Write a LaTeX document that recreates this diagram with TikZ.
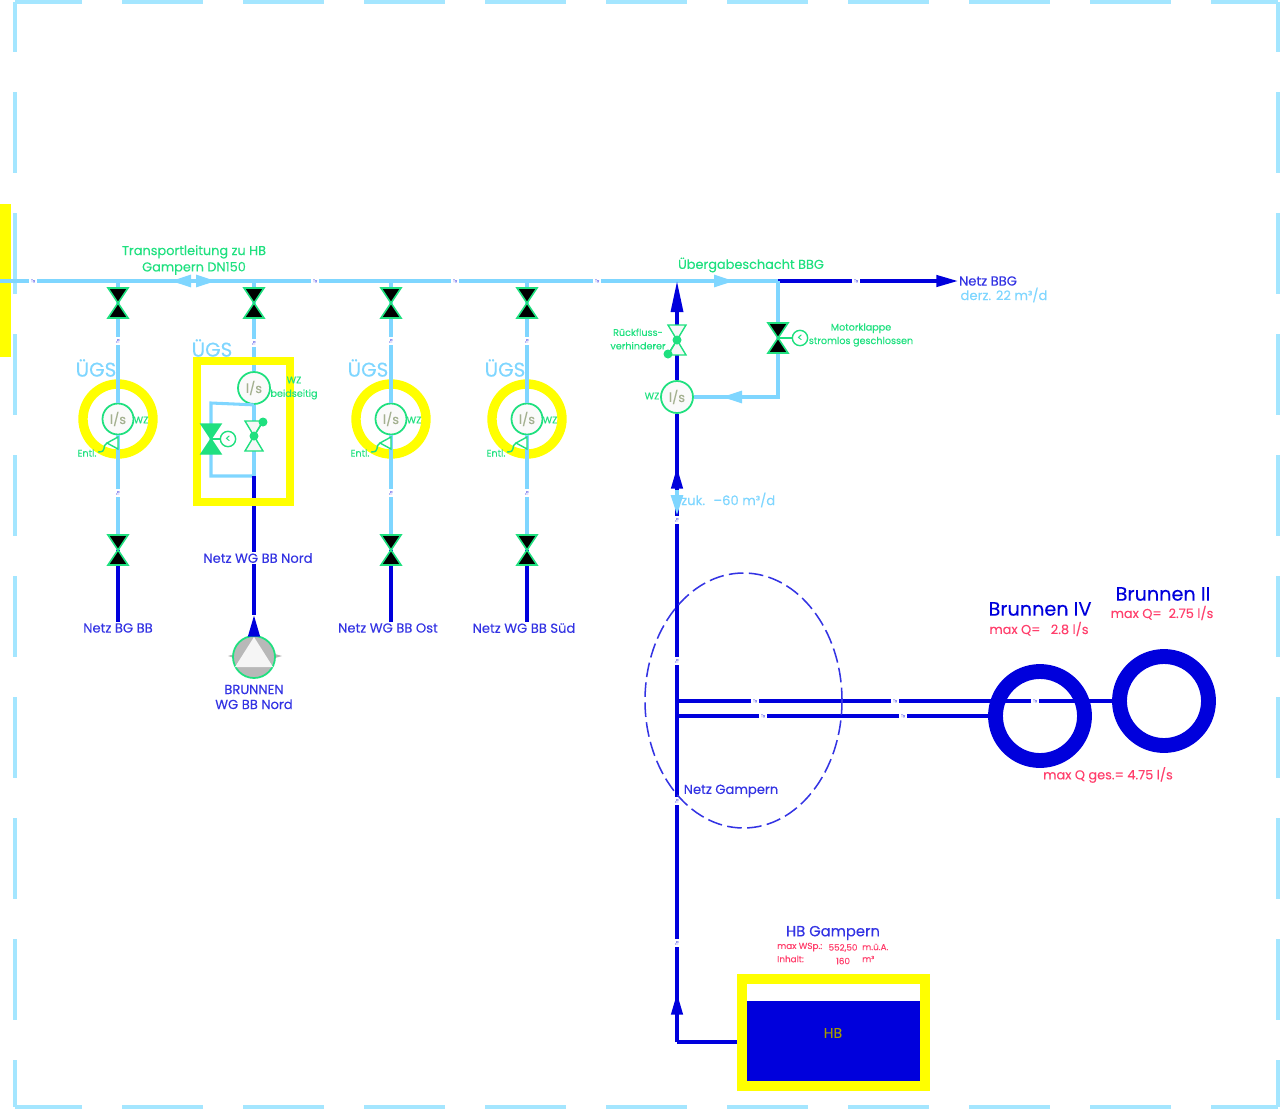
\documentclass[tikz,border=0pt]{standalone}
\usepackage{fontspec}
\setmainfont{Poppins}[FakeBold=0.2]
\usepackage{tikz}
\usetikzlibrary{arrows.meta,shapes.geometric}

\definecolor{lightpipe}{HTML}{7FD6FF}
\definecolor{darkpipe}{HTML}{0000DC}
\definecolor{framecol}{HTML}{A4E6FF}
\definecolor{signal}{HTML}{1FE07F}
\definecolor{alarm}{HTML}{FF3F6C}
\definecolor{markyellow}{RGB}{255,255,0}
\definecolor{metertext}{HTML}{A3B08F}

\tikzset{
  pipe/.style={line width=2.6pt,draw=lightpipe},
  mainpipe/.style={line width=2.8pt,draw=darkpipe},
  frameline/.style={line width=3pt,draw=framecol,dash pattern=on 2.43cm off 1.2cm},
  marker/.style={line width=7pt,draw=markyellow},
  tag/.style={font=\fontsize{3.5}{4}\selectfont,inner sep=1.5pt,text=darkpipe!50},
  meter/.style={circle,draw=signal,line width=1.5pt,fill=black!2,minimum size=0.93cm,inner sep=0pt,
    text=metertext,font=\fontsize{11}{12}\selectfont},
  motor/.style={circle,draw=signal,line width=1.2pt,fill=white,minimum size=0.46cm,inner sep=0pt,
    font=\fontsize{9}{9}\selectfont,text=signal},
  greentext/.style={text=signal,font=\fontsize{11}{14}\selectfont,inner sep=0pt,align=center},
  smallgreen/.style={text=signal,font=\fontsize{8.2}{11.5}\selectfont,inner sep=0pt,align=center},
  bluetext/.style={text=darkpipe!80!white,font=\fontsize{11.2}{12.8}\selectfont,inner sep=0pt,align=center},
  skytext/.style={text=lightpipe,font=\fontsize{11.2}{13}\selectfont,inner sep=0pt,align=center},
  ugstext/.style={text=lightpipe,font=\fontsize{17}{19}\selectfont,inner sep=0pt},
  redtext/.style={text=alarm,font=\fontsize{11}{13}\selectfont,inner sep=0pt},
  tinyred/.style={text=alarm,font=\fontsize{7.5}{9}\selectfont,inner sep=0pt},
  bigblue/.style={text=darkpipe,font=\fontsize{16.4}{19}\selectfont,inner sep=0pt},
  well/.style={circle,draw=darkpipe,line width=12.7pt,minimum size=2.67cm,inner sep=0pt},
  lighttip/.style={pipe,-{Triangle[length=0.6cm,width=0.36cm,fill=lightpipe]}},
  darktip/.style={mainpipe,-{Triangle[length=0.65cm,width=0.34cm,fill=darkpipe]}},
  longtip/.style={mainpipe,-{Triangle[length=0.93cm,width=0.36cm,fill=darkpipe]}},
  valve/.pic={
    \draw[signal,line width=1.4pt,fill=black] (-10,-15) -- (10,-15) -- (-10,15) -- (10,15) -- cycle;
  },
  greenvalve/.pic={
    \draw[signal,line width=1.2pt,fill=signal] (-10,-15) -- (10,-15) -- (-10,15) -- (10,15) -- cycle;
  },
  checkvalve/.pic={
    \draw[signal,line width=1.2pt,fill=black!3] (-9,-15) -- (9,-15) -- (-9,15) -- (9,15) -- cycle;
    \fill[signal] (0,0) circle (4.5);
  },
}

\begin{document}
\begin{tikzpicture}[x=0.03cm,y=-0.03cm]
    \useasboundingbox (0,0) rectangle (1281,1110);

    \coordinate (NW) at (15,2);
    \coordinate (NE) at (1278,2);
    \coordinate (SW) at (15,1107);
    \coordinate (SE) at (1278,1107);
    \draw[frameline,dash phase=0.42cm] (NW) -- (NE);
    \draw[frameline,dash phase=0.42cm] (SW) -- (SE);
    \draw[frameline,dash phase=0.93cm] (NW) -- (SW);
    \draw[frameline,dash phase=0.93cm] (NE) -- (SE);
    \fill[markyellow] (0,204) rectangle (11,357);

    % transport line
    \coordinate (west) at (0,281);
    \coordinate (shaft) at (677,281);
    \coordinate (flap) at (778,281);
    \coordinate (bbg) at (958,281);
    \node[tag] (ta) at (33,281) {Tx};
    \node[tag] (tb) at (315,281) {Tx};
    \node[tag] (tc) at (455,281) {Tx};
    \node[tag] (td) at (597,281) {Tx};
    \node[tag] (te) at (856,281) {Tx};
    \draw[pipe] (west) -- (ta) -- (tb) -- (tc) -- (td) -- (flap);
    \draw[mainpipe] (flap) -- (te);
    \draw[darktip] (te) -- (bbg);
    \draw[lighttip] (193,281) -- (171,281);
    \draw[lighttip] (196,281) -- (216,281);
    \draw[lighttip] (714,281) -- (734,281);

    % branch BG BB
    \coordinate (jA) at (118,281);
    \coordinate (vaA) at (118,303);
    \coordinate (vbA) at (118,550);
    \coordinate (endA) at (118,622);
    \draw[marker,line width=8pt] (118,419) circle (35);
    \node[meter] (mA) at (118,419) {l/s};
    \node[tag,rotate=90] (uaA) at (118,341) {Tx};
    \node[tag,rotate=90] (ubA) at (118,493) {Tx};
    \draw[pipe] (jA) -- (uaA) -- (mA);
    \draw[pipe] (mA) -- (ubA) -- (vbA);
    \draw[mainpipe] (vbA) -- (endA);
    \pic at (vaA) {valve};
    \pic at (vbA) {valve};

    % branch WG BB Nord
    \coordinate (jB) at (254,281);
    \coordinate (vaB) at (254,303);
    \coordinate (vcB) at (254,436);
    \coordinate (joinB) at (254,476);
    \coordinate (topB) at (211,403);
    \coordinate (botB) at (211,476);
    \coordinate (vgB) at (211,439);
    \coordinate (tipB) at (254,615);
    \node[meter,minimum size=0.96cm] (mB) at (254,388) {l/s};
    \node[tag,rotate=90] (uaB) at (254,343) {Tx};
    \draw[pipe] (jB) -- (uaB) -- (mB);
    \draw[pipe] (mB) -- (joinB);
    \draw[pipe] (mB.south) -- (topB) -- (botB) -- (joinB);
    \node[bluetext,fill=white,inner sep=1pt] (nordB) at (258,558) {Netz WG BB Nord};
    \draw[mainpipe] (joinB) -- (joinB |- nordB.north);
    \draw[marker] (197,361) rectangle (290,502);
    \pic at (vaB) {valve};
    \pic at (vgB) {greenvalve};
    \pic at (vcB) {checkvalve};
    \draw[signal,line width=1pt] (vcB) -- (263,422);
    \fill[signal] (263,422) circle (4.5);
    \node[motor] (motB) at (228,439) {<};
    \draw[signal,line width=1.2pt] (vgB) -- (motB);

    % pump
    \fill[black!30] (228,656) -- (254,648) -- (282,656) -- (254,664) -- cycle;
    \node[circle,draw=signal,line width=1.5pt,fill=black!28,minimum size=1.26cm,inner sep=0pt] (pump) at (254,657) {};
    \fill[black!4] (254,637) -- (273,667) -- (235,667) -- cycle;
    \draw[mainpipe] (tipB |- nordB.south) -- (tipB);
    \draw[darktip] (pump.north) -- (tipB);

    % branch WG BB Ost
    \coordinate (jC) at (391,281);
    \coordinate (vaC) at (391,303);
    \coordinate (vbC) at (391,550);
    \coordinate (endC) at (391,622);
    \draw[marker,line width=8pt] (391,419) circle (35);
    \node[meter] (mC) at (391,419) {l/s};
    \node[tag,rotate=90] (uaC) at (391,341) {Tx};
    \node[tag,rotate=90] (ubC) at (391,493) {Tx};
    \draw[pipe] (jC) -- (uaC) -- (mC);
    \draw[pipe] (mC) -- (ubC) -- (vbC);
    \draw[mainpipe] (vbC) -- (endC);
    \pic at (vaC) {valve};
    \pic at (vbC) {valve};

    % branch WG BB Sued
    \coordinate (jD) at (527,281);
    \coordinate (vaD) at (527,303);
    \coordinate (vbD) at (527,550);
    \coordinate (endD) at (527,622);
    \draw[marker,line width=8pt] (527,419) circle (35);
    \node[meter] (mD) at (527,419) {l/s};
    \node[tag,rotate=90] (uaD) at (527,341) {Tx};
    \node[tag,rotate=90] (ubD) at (527,493) {Tx};
    \draw[pipe] (jD) -- (uaD) -- (mD);
    \draw[pipe] (mD) -- (ubD) -- (vbD);
    \draw[mainpipe] (vbD) -- (endD);
    \pic at (vaD) {valve};
    \pic at (vbD) {valve};

    % air valves
    \draw[signal,line width=1.2pt,fill=white] (118,437) -- (107,443) -- (118,449) -- cycle;
    \draw[signal,line width=1.2pt] (107,443) .. controls (101,446) and (108,452) .. (98,452);
    \draw[signal,line width=1.2pt,fill=white] (391,437) -- (380,443) -- (391,449) -- cycle;
    \draw[signal,line width=1.2pt] (380,443) .. controls (374,446) and (381,452) .. (371,452);
    \draw[signal,line width=1.2pt,fill=white] (527,437) -- (516,443) -- (527,449) -- cycle;
    \draw[signal,line width=1.2pt] (516,443) .. controls (510,446) and (517,452) .. (507,452);

    % shaft
    \coordinate (checkV) at (677,340);
    \coordinate (flapV) at (778,338);
    \coordinate (bend) at (778,397);
    \coordinate (tank) at (738,1042);
    \coordinate (foot) at (677,1042);
    \node[meter,minimum size=0.96cm] (mS) at (677,397) {l/s};
    \node[tag,rotate=90] (tf) at (677,520) {Tx};
    \node[tag,rotate=90] (tg) at (677,661) {Tx};
    \node[tag,rotate=90] (th) at (677,801) {Tx};
    \node[tag,rotate=90] (ti) at (677,943) {Tx};
    \draw[mainpipe] (foot) -- (ti);
    \draw[mainpipe] (foot) -- (tank);
    \draw[mainpipe] (ti) -- (th);
    \draw[mainpipe] (th) -- (tg);
    \draw[mainpipe] (tg) -- (tf);
    \draw[mainpipe] (tf) -- (mS);
    \draw[mainpipe] (mS) -- (checkV);
    \draw[longtip] (checkV) -- (shaft);
    \draw[darktip] (677,500) -- (677,467);
    \draw[darktip] (677,1020) -- (677,993);
    \draw[lighttip] (677,490) -- (677,515);
    \draw[pipe] (flap) -- (bend) -- (mS);
    \draw[lighttip] (740,397) -- (722,397);
    \pic at (checkV) {checkvalve};
    \fill[signal] (668,354) circle (4.5);
    \draw[signal,line width=1pt] (checkV) -- (668,354);
    \pic at (flapV) {valve};
    \node[motor] (motF) at (800,338) {<};
    \draw[signal,line width=1.2pt] (flapV) -- (motF);

    % wells
    \node[well] (wellD) at (1040,716) {};
    \node[well] (wellB) at (1164,701) {};
    \coordinate (splitA) at (677,701);
    \coordinate (splitB) at (677,716);
    \node[tag] (tj) at (755,701) {Tx};
    \node[tag] (tk) at (895,701) {Tx};
    \node[tag] (tl) at (1035,701) {Tx};
    \node[tag] (tm) at (763,716) {Tx};
    \node[tag] (tn) at (903,716) {Tx};
    \draw[mainpipe] (splitA) -- (tj) -- (tk) -- (tl) -- (1113,701);
    \draw[mainpipe] (splitB) -- (tm) -- (tn) -- (992,716);
    \draw[darkpipe!80,line width=1.3pt,dash pattern=on 0.44cm off 0.16cm] (743.5,700.5) ellipse (98.5 and 127.5);

    % reservoir
    \fill[white] (747,984) rectangle (920,1081);
    \draw[markyellow,line width=8.5pt] (742,979) rectangle (925,1086);
    \node[fill=darkpipe,minimum width=5.19cm,minimum height=2.4cm,inner sep=0pt] (water) at (833.5,1041) {};
    \node[text=olive!80!yellow,font=\fontsize{12}{14}\selectfont,inner sep=0pt] (lHB) at (833,1033) {HB};

    % labels
    \node[greentext] (lTrans) at (194,260) {Transportleitung zu HB\\Gampern DN150};
    \node[greentext] (lUeb) at (751,265) {Übergabeschacht BBG};
    \node[smallgreen] (lRueck) at (638,339) {Rückfluss-\\verhinderer};
    \node[smallgreen] (lMot) at (861,335) {Motorklappe\\stromlos geschlossen};
    \node[bluetext] (lBBG) at (988,281) {Netz BBG};
    \node[skytext] (lDerz) at (1004,295) {derz. 22 m³/d};
    \node[skytext,anchor=west] (lZuk) at (681,500) {zuk. ~–60 m³/d};
    \node[ugstext] (uA) at (96,368) {ÜGS};
    \node[ugstext] (uB) at (212,348) {ÜGS};
    \node[ugstext] (uC) at (368,368) {ÜGS};
    \node[ugstext] (uD) at (505,368) {ÜGS};
    \node[smallgreen] (wA) at (141,420) {WZ};
    \node[smallgreen] (wC) at (414,420) {WZ};
    \node[smallgreen] (wD) at (550,420) {WZ};
    \node[smallgreen] (wB) at (294,388) {WZ\\beidseitig};
    \node[smallgreen] (wS) at (652,396) {WZ};
    \node[smallgreen] (eA) at (87,453) {Entl.};
    \node[smallgreen] (eC) at (360,453) {Entl.};
    \node[smallgreen] (eD) at (496,453) {Entl.};
    \node[bluetext] (nA) at (118,628) {Netz BG BB};
    \node[bluetext] (nC) at (388,628) {Netz WG BB Ost};
    \node[bluetext] (nD) at (524,628) {Netz WG BB Süd};
    \node[bluetext] (nP) at (254,697) {BRUNNEN\\WG BB Nord};
    \node[bluetext] (nG) at (731,791) {Netz Gampern};
    \node[bigblue] (bD) at (1040,609) {Brunnen IV};
    \node[bigblue] (bB) at (1163,594) {Brunnen II};
    \node[redtext] (qD) at (1039,629) {max Q=~~ 2.8 l/s};
    \node[redtext] (qB) at (1162,613) {max Q=~ 2.75 l/s};
    \node[redtext] (qG) at (1108,775) {max Q ges.= 4.75 l/s};
    \node[bluetext,font=\fontsize{12.6}{15}\selectfont] (hbG) at (833,933) {HB Gampern};
    \node[tinyred,anchor=west] (rA) at (777,947) {max WSp.:};
    \node[tinyred] (rB) at (843,948) {552,50};
    \node[tinyred,anchor=west] (rC) at (862,947) {m.ü.A.};
    \node[tinyred,anchor=west] (rD) at (777,959) {Inhalt:};
    \node[tinyred] (rE) at (843,961) {160};
    \node[tinyred,anchor=west] (rF) at (862,959) {m³};
\end{tikzpicture}
\end{document}
